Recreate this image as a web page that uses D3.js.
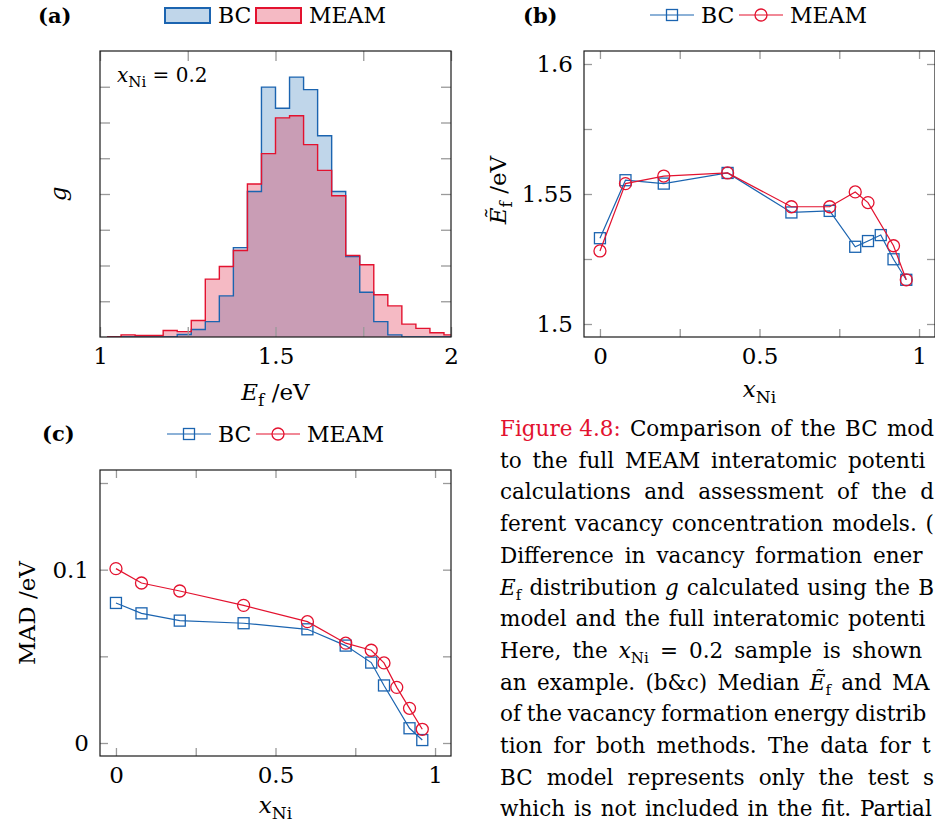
<!DOCTYPE html>
<html><head><meta charset="utf-8">
<script src="https://cdn.jsdelivr.net/npm/d3@7"></script>
<style>
body{margin:0;background:#fff;}
svg{display:block;font-family:"DejaVu Serif",serif;}
</style></head><body>
<svg id="fig" width="935" height="829"></svg>
<script>
// ---- data -------------------------------------------------------------
const seriesNames = ["BC", "MEAM"];

// (a) E_f histogram at x_Ni = 0.2: left bin edges (eV) and bin heights
const binLeft = [1.02,1.06,1.10,1.14,1.18,1.22,1.26,1.30,1.34,1.38,1.42,1.46,1.50,
                 1.54,1.58,1.62,1.66,1.70,1.74,1.78,1.82,1.86,1.90,1.94,1.98];
const binWidth = 0.04;
const histBC   = [0,0,0,0,0,0.07,0.21,0.43,1.15,2.50,4.07,6.99,6.40,
                  7.27,6.92,5.63,4.07,2.25,1.25,0.43,0.06,0,0,0,0];
const histMEAM = [0,0.06,0.04,0.04,0.18,0.15,0.46,1.62,1.97,2.42,4.28,5.13,6.13,
                  6.19,5.38,4.66,3.95,2.28,2.02,1.18,0.87,0.36,0.24,0.12,0.06];

// (b) median vacancy formation energy vs x_Ni
const medXBC   = [0,0.08,0.2,0.4,0.6,0.72,0.8,0.84,0.88,0.92,0.96];
const medBC    = [1.5330,1.5553,1.5540,1.5581,1.5429,1.5435,1.5297,1.5319,1.5342,1.5249,1.5170];
const medXMEAM = [0,0.08,0.2,0.4,0.6,0.72,0.8,0.84,0.92,0.96];
const medMEAM  = [1.5281,1.5540,1.5569,1.5581,1.5451,1.5451,1.5508,1.5467,1.5301,1.5170];

// (c) mean absolute deviation vs x_Ni
const madXBC   = [0,0.08,0.2,0.4,0.6,0.72,0.8,0.84,0.92,0.96];
const madBC    = [0.0808,0.0748,0.0706,0.0691,0.0656,0.0562,0.0464,0.0332,0.0085,0.0017];
const madXMEAM = [0,0.08,0.2,0.4,0.6,0.72,0.8,0.84,0.88,0.92,0.96];
const madMEAM  = [0.1006,0.0923,0.0877,0.0794,0.0700,0.0576,0.0535,0.0462,0.0321,0.0200,0.0079];

// ticks and their labels
const histXTicks  = [1,1.25,1.5,1.75,2];
const histXLabels = ["1","","1.5","","2"];
const histYTicks  = [1,2,3,4,5,6,7];
const xNiTicks    = [0,0.25,0.5,0.75,1];
const xNiLabels   = ["0","","0.5","","1"];
const medYTicks   = [1.5,1.525,1.55,1.575,1.6];
const medYLabels  = ["1.5","","1.55","","1.6"];
const madYTicks   = [0,0.05,0.1,0.15];
const madYLabels  = ["0","","0.1",""];

// ---- styling ----------------------------------------------------------
const BLUE = "#1b64b0", RED = "#e3122f";
const BLUE_FILL = "#2d76b9", RED_FILL = "#de1a3a";
const TICK = "#9a9a9a", FRAME = "#1a1a1a";
const FS = 23;

const svg = d3.select("#fig");

function frameAxes(g, x, y, o) {
  const [x0, x1] = x.range(), [yb, yt] = y.range();
  const L = o.tick;
  const style = sel => {
    sel.select(".domain").remove();
    sel.selectAll(".tick line").attr("stroke", TICK).attr("stroke-width", 1.3);
    sel.selectAll(".tick text").attr("fill", "#000").attr("font-size", FS)
       .attr("font-family", "DejaVu Serif");
  };
  g.append("g").attr("transform", `translate(0,${yb})`)
    .call(d3.axisBottom(x).tickValues(o.xt).tickSize(-L).tickPadding(11)
      .tickFormat((d, i) => o.xl ? o.xl[i] : "")).call(style);
  g.append("g").attr("transform", `translate(0,${yt})`)
    .call(d3.axisTop(x).tickValues(o.xt).tickSize(-L).tickFormat("")).call(style);
  g.append("g").attr("transform", `translate(${x0},0)`)
    .call(d3.axisLeft(y).tickValues(o.yt).tickSize(-L).tickPadding(11)
      .tickFormat((d, i) => o.yl ? o.yl[i] : "")).call(style);
  g.append("g").attr("transform", `translate(${x1},0)`)
    .call(d3.axisRight(y).tickValues(o.yt).tickSize(-L).tickFormat("")).call(style);
  g.append("rect").attr("x", x0).attr("y", yt).attr("width", x1 - x0).attr("height", yb - yt)
    .attr("fill", "none").attr("stroke", FRAME).attr("stroke-width", 1.2);
}

// text with optional italic main part and subscript
function richText(parent, parts, attrs) {
  const t = parent.append("text");
  Object.entries(attrs).forEach(([k, v]) => t.attr(k, v));
  let shift = 0;
  parts.forEach(p => {
    const s = t.append("tspan").text(p.t);
    if (p.it) s.attr("font-style", "italic");
    if (p.fill) s.attr("fill", p.fill);
    const want = p.sub ? p.sub : 0;
    if (want !== shift) { s.attr("dy", want - shift); shift = want; }
    if (p.fs) s.attr("font-size", p.fs);
  });
  return t;
}

function panelLabel(txt, x, y) {
  svg.append("text").attr("x", x).attr("y", y).attr("font-weight", "bold")
    .attr("font-size", 21).text(txt);
}

function marker(sel, shape, color) {
  if (shape === "square") {
    sel.append("rect").attr("x", -5.5).attr("y", -5.5).attr("width", 11).attr("height", 11)
      .attr("fill", "none").attr("stroke", color).attr("stroke-width", 1.3);
  } else {
    sel.append("circle").attr("r", 6).attr("fill", "none")
      .attr("stroke", color).attr("stroke-width", 1.3);
  }
}

function lineLegend(cx, cy) {
  const g = svg.append("g");
  const items = [
    { name: seriesNames[0], color: BLUE, shape: "square", x: cx },
    { name: seriesNames[1], color: RED, shape: "circle", x: cx + 89 }
  ];
  items.forEach(it => {
    g.append("line").attr("x1", it.x).attr("x2", it.x + 44).attr("y1", cy).attr("y2", cy)
      .attr("stroke", it.color).attr("stroke-width", 1.2);
    marker(g.append("g").attr("transform", `translate(${it.x + 22},${cy})`), it.shape, it.color);
    g.append("text").attr("x", it.x + 51).attr("y", cy + 8).attr("font-size", 22).text(it.name);
  });
}

function seriesLine(g, x, y, xs, ys, color, shape) {
  const pts = xs.map((v, i) => [x(v), y(ys[i])]);
  g.append("path").attr("d", d3.line()(pts)).attr("fill", "none")
    .attr("stroke", color).attr("stroke-width", 1.2);
  g.selectAll(null).data(pts).join("g")
    .attr("transform", d => `translate(${d[0]},${d[1]})`)
    .each(function () { marker(d3.select(this), shape, color); });
}

// ---- (a) histogram ----------------------------------------------------
{
  const x = d3.scaleLinear().domain([1, 2]).range([100, 451]);
  const y = d3.scaleLinear().domain([0, 8]).range([337, 51]);
  const g = svg.append("g");
  svg.append("clipPath").attr("id", "clipA").append("rect")
    .attr("x", 100).attr("y", 51).attr("width", 351).attr("height", 286);
  const hg = g.append("g").attr("clip-path", "url(#clipA)");
  const steps = vals => {
    const p = [[binLeft[0], 0]];
    binLeft.forEach((b, i) => p.push([b, vals[i]]));
    p.push([binLeft[binLeft.length - 1] + binWidth, 0]);
    return p;
  };
  const area = d3.area().x(d => x(d[0])).y0(y(0)).y1(d => y(d[1])).curve(d3.curveStepAfter);
  const line = d3.line().x(d => x(d[0])).y(d => y(d[1])).curve(d3.curveStepAfter);
  [[histBC, BLUE_FILL], [histMEAM, RED_FILL]].forEach(([v, c]) =>
    hg.append("path").attr("d", area(steps(v))).attr("fill", c).attr("fill-opacity", 0.3));
  [[histBC, BLUE], [histMEAM, RED]].forEach(([v, c]) =>
    hg.append("path").attr("d", line(steps(v))).attr("fill", "none")
      .attr("stroke", c).attr("stroke-width", 1.4).attr("stroke-linejoin", "miter"));
  frameAxes(g, x, y, { xt: histXTicks, xl: histXLabels, yt: histYTicks, tick: 10 });

  richText(svg, [{ t: "E", it: true }, { t: "f", sub: 6, fs: 17 }, { t: " /eV", sub: 0 }],
    { x: 275.5, y: 400, "text-anchor": "middle", "font-size": FS });
  richText(svg, [{ t: "g", it: true }],
    { transform: "translate(66,194) rotate(-90)", "text-anchor": "middle", "font-size": FS });
  richText(svg, [{ t: "x", it: true }, { t: "Ni", sub: 5, fs: 15 }, { t: " = 0.2", sub: 0 }],
    { x: 117, y: 82, "font-size": 20 });

  panelLabel("(a)", 38, 23);
  // filled-box legend
  const lg = svg.append("g");
  [[seriesNames[0], BLUE, BLUE_FILL, 165], [seriesNames[1], RED, RED_FILL, 256]].forEach(([n, s, f, lx]) => {
    lg.append("rect").attr("x", lx).attr("y", 8).attr("width", 45).attr("height", 15)
      .attr("fill", f).attr("fill-opacity", 0.3).attr("stroke", s).attr("stroke-width", 2);
    lg.append("text").attr("x", lx + 53).attr("y", 23).attr("font-size", 22).text(n);
  });
}

// ---- (b) median E_f ---------------------------------------------------
{
  const x = d3.scaleLinear().domain([-0.05, 1.05]).range([584, 935]);
  const y = d3.scaleLinear().domain([1.495, 1.605]).range([337, 51]);
  const g = svg.append("g");
  frameAxes(g, x, y, { xt: xNiTicks, xl: xNiLabels, yt: medYTicks, yl: medYLabels, tick: 8 });
  seriesLine(g, x, y, medXBC, medBC, BLUE, "square");
  seriesLine(g, x, y, medXMEAM, medMEAM, RED, "circle");
  richText(svg, [{ t: "x", it: true }, { t: "Ni", sub: 6, fs: 17 }],
    { x: 759.5, y: 397, "text-anchor": "middle", "font-size": FS });
  richText(svg, [{ t: "Ẽ", it: true }, { t: "f", sub: 6, fs: 17 }, { t: " /eV", sub: 0 }],
    { transform: "translate(506,190) rotate(-90)", "text-anchor": "middle", "font-size": FS });
  panelLabel("(b)", 523, 23);
  lineLegend(650, 15);
}

// ---- (c) MAD ----------------------------------------------------------
{
  const x = d3.scaleLinear().domain([-0.05, 1.05]).range([100, 451]);
  const y = d3.scaleLinear().domain([-0.0075, 0.1575]).range([756, 470]);
  const g = svg.append("g");
  frameAxes(g, x, y, { xt: xNiTicks, xl: xNiLabels, yt: madYTicks, yl: madYLabels, tick: 8 });
  seriesLine(g, x, y, madXBC, madBC, BLUE, "square");
  seriesLine(g, x, y, madXMEAM, madMEAM, RED, "circle");
  richText(svg, [{ t: "x", it: true }, { t: "Ni", sub: 6, fs: 17 }],
    { x: 275.5, y: 813, "text-anchor": "middle", "font-size": FS });
  richText(svg, [{ t: "MAD /eV" }],
    { transform: "translate(35,613) rotate(-90)", "text-anchor": "middle", "font-size": FS });
  panelLabel("(c)", 42, 441);
  lineLegend(167, 434);
}

// ---- caption: visible part of each justified line --------------------
// each line: words, and the x where its last (partly shown) word starts;
// the words in between are spread evenly, the last one kept inside the page.
{
  const CAP_X = 500, CAP_RIGHT = 934, CAP_Y0 = 436, CAP_DY = 31.7, CAP_FS = 21.5;
  const w = s => [{ t: s }];
  const Ef = [{ t: "E", it: true }, { t: "f", sub: 5, fs: 15 }];
  const Etf = [{ t: "Ẽ", it: true }, { t: "f", sub: 5, fs: 15 }];
  const xNi = [{ t: "x", it: true }, { t: "Ni", sub: 5, fs: 15 }];
  const lines = [
    [892, [[{ t: "Figure 4.8:", fill: RED }], w("Comparison"), w("of"), w("the"), w("BC"), w("mod")]],
    [848, ["to","the","full","MEAM","interatomic","potenti"].map(w)],
    [925, ["calculations","and","assessment","of","the","d"].map(w)],
    [929, ["ferent","vacancy","concentration","models.","("].map(w)],
    [873, ["Difference","in","vacancy","formation","ener"].map(w)],
    [926, [Ef, w("distribution"), [{ t: "g", it: true }], w("calculated"), w("using"), w("the"), w("B")]],
    [848, ["model","and","the","full","interatomic","potenti"].map(w)],
    [852, [w("Here,"), w("the"), xNi, w("="), w("0.2"), w("sample"), w("is"), w("shown")]],
    [892, [w("an"), w("example."), w("(b&c)"), w("Median"), Etf, w("and"), w("MA")]],
    [855, ["of","the","vacancy","formation","energy","distrib"].map(w)],
    [922, ["tion","for","both","methods.","The","data","for","t"].map(w)],
    [927, ["BC","model","represents","only","the","test","s"].map(w)],
    [860, ["which","is","not","included","in","the","fit.","Partial"].map(w)]
  ];
  const cg = svg.append("g");
  lines.forEach(([lastX0, words], li) => {
    const yy = CAP_Y0 + li * CAP_DY;
    const nodes = words.map(parts => richText(cg, parts, { x: 0, y: yy, "font-size": CAP_FS }));
    const widths = nodes.map(n => n.node().getComputedTextLength());
    const n = words.length;
    const lastX = Math.min(lastX0, CAP_RIGHT - widths[n - 1]);
    const gap = (lastX - CAP_X - d3.sum(widths.slice(0, n - 1))) / (n - 1);
    let cx = CAP_X;
    nodes.forEach((node, i) => {
      node.attr("x", i === n - 1 ? lastX : cx);
      cx += widths[i] + gap;
    });
  });
}
</script>
</body></html>
